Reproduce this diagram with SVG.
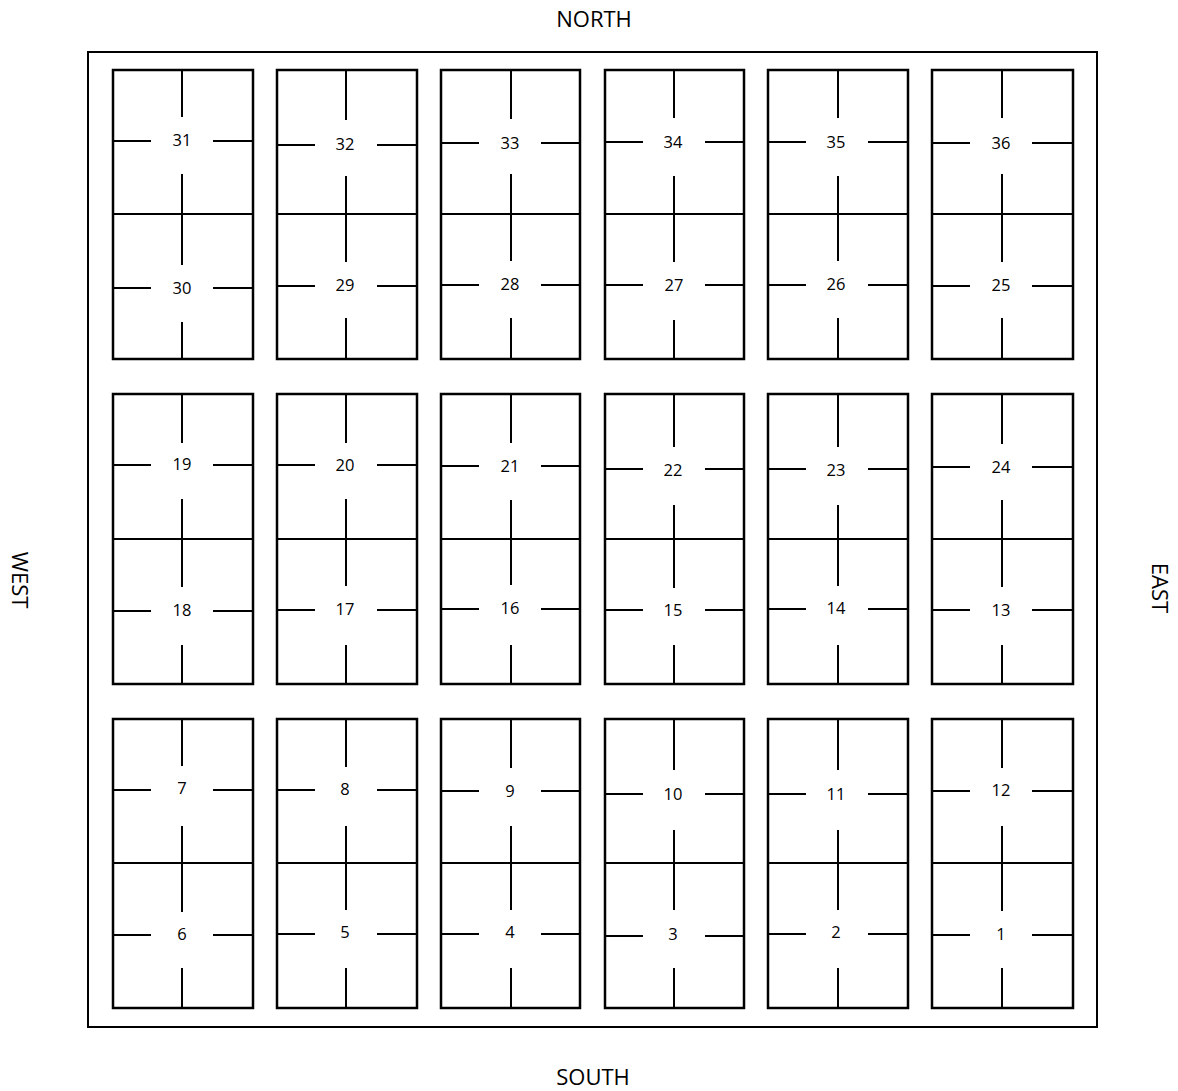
<svg xmlns="http://www.w3.org/2000/svg" width="1178" height="1091" viewBox="0 0 1178 1091">
<style>
.b{fill:none;stroke:#000;stroke-width:2.5}
.o{fill:none;stroke:#000;stroke-width:2}
.l{stroke:#000;stroke-width:2;fill:none}
.n{font-family:"Open Sans","Liberation Sans",sans-serif;font-size:16.5px;text-anchor:middle;fill:#000}
.d{font-family:"Open Sans","Liberation Sans",sans-serif;font-size:22px;text-anchor:middle;fill:#000}
</style>
<rect width="1178" height="1091" fill="#fff"/>
<rect class="o" x="88" y="52" width="1009" height="975"/>
<g id="labels">
<text class="d" x="594" y="27">NORTH</text>
<text class="d" x="593" y="1085">SOUTH</text>
<text class="d" transform="translate(12,580) rotate(90)">WEST</text>
<text class="d" transform="translate(1152,588) rotate(90)">EAST</text>
</g>
<g id="b31_30"><rect class="b" x="113" y="70" width="140" height="289"/><path class="l" d="M113 214H253M182 70V117M182 174V265M182 322V359M113 141H151M213 141H253M113 288H151M213 288H253"/><text class="n" x="182" y="146">31</text><text class="n" x="182" y="294">30</text></g>
<g id="b32_29"><rect class="b" x="277" y="70" width="140" height="289"/><path class="l" d="M277 214H417M346 70V120M346 176V262M346 318V359M277 145H315M377 145H417M277 286H315M377 286H417"/><text class="n" x="345" y="150">32</text><text class="n" x="345" y="291">29</text></g>
<g id="b33_28"><rect class="b" x="441" y="70" width="139" height="289"/><path class="l" d="M441 214H580M511 70V119M511 174V261M511 318V359M441 143H479M541 143H580M441 285H479M541 285H580"/><text class="n" x="510" y="149">33</text><text class="n" x="510" y="290">28</text></g>
<g id="b34_27"><rect class="b" x="605" y="70" width="139" height="289"/><path class="l" d="M605 214H744M674 70V118M674 176V262M674 320V359M605 142H643M705 142H744M605 285H643M705 285H744"/><text class="n" x="673" y="148">34</text><text class="n" x="674" y="291">27</text></g>
<g id="b35_26"><rect class="b" x="768" y="70" width="140" height="289"/><path class="l" d="M768 214H908M838 70V118M838 176V261M838 318V359M768 142H806M868 142H908M768 285H806M868 285H908"/><text class="n" x="836" y="148">35</text><text class="n" x="836" y="290">26</text></g>
<g id="b36_25"><rect class="b" x="932" y="70" width="141" height="289"/><path class="l" d="M932 214H1073M1002 70V118M1002 174V262M1002 318V359M932 143H970M1032 143H1073M932 286H970M1032 286H1073"/><text class="n" x="1001" y="149">36</text><text class="n" x="1001" y="291">25</text></g>
<g id="b19_18"><rect class="b" x="113" y="394" width="140" height="290"/><path class="l" d="M113 539H253M182 394V443M182 499V587M182 645V684M113 465H151M213 465H253M113 611H151M213 611H253"/><text class="n" x="182" y="470">19</text><text class="n" x="182" y="616">18</text></g>
<g id="b20_17"><rect class="b" x="277" y="394" width="140" height="290"/><path class="l" d="M277 539H417M346 394V443M346 499V586M346 645V684M277 465H315M377 465H417M277 610H315M377 610H417"/><text class="n" x="345" y="471">20</text><text class="n" x="345" y="615">17</text></g>
<g id="b21_16"><rect class="b" x="441" y="394" width="139" height="290"/><path class="l" d="M441 539H580M511 394V443M511 500V585M511 645V684M441 466H479M541 466H580M441 609H479M541 609H580"/><text class="n" x="510" y="472">21</text><text class="n" x="510" y="614">16</text></g>
<g id="b22_15"><rect class="b" x="605" y="394" width="139" height="290"/><path class="l" d="M605 539H744M674 394V447M674 505V588M674 645V684M605 469H643M705 469H744M605 610H643M705 610H744"/><text class="n" x="673" y="476">22</text><text class="n" x="673" y="616">15</text></g>
<g id="b23_14"><rect class="b" x="768" y="394" width="140" height="290"/><path class="l" d="M768 539H908M838 394V447M838 505V586M838 645V684M768 469H806M868 469H908M768 609H806M868 609H908"/><text class="n" x="836" y="476">23</text><text class="n" x="836" y="614">14</text></g>
<g id="b24_13"><rect class="b" x="932" y="394" width="141" height="290"/><path class="l" d="M932 539H1073M1002 394V444M1002 500V587M1002 645V684M932 467H970M1032 467H1073M932 610H970M1032 610H1073"/><text class="n" x="1001" y="473">24</text><text class="n" x="1001" y="616">13</text></g>
<g id="b7_6"><rect class="b" x="113" y="719" width="140" height="289"/><path class="l" d="M113 863H253M182 719V766M182 826V912M182 968V1008M113 790H151M213 790H253M113 935H151M213 935H253"/><text class="n" x="182" y="794">7</text><text class="n" x="182" y="940">6</text></g>
<g id="b8_5"><rect class="b" x="277" y="719" width="140" height="289"/><path class="l" d="M277 863H417M346 719V767M346 826V910M346 968V1008M277 790H315M377 790H417M277 934H315M377 934H417"/><text class="n" x="345" y="795">8</text><text class="n" x="345" y="938">5</text></g>
<g id="b9_4"><rect class="b" x="441" y="719" width="139" height="289"/><path class="l" d="M441 863H580M511 719V768M511 826V910M511 968V1008M441 791H479M541 791H580M441 934H479M541 934H580"/><text class="n" x="510" y="797">9</text><text class="n" x="510" y="938">4</text></g>
<g id="b10_3"><rect class="b" x="605" y="719" width="139" height="289"/><path class="l" d="M605 863H744M674 719V770M674 830V910M674 968V1008M605 794H643M705 794H744M605 936H643M705 936H744"/><text class="n" x="673" y="800">10</text><text class="n" x="673" y="940">3</text></g>
<g id="b11_2"><rect class="b" x="768" y="719" width="140" height="289"/><path class="l" d="M768 863H908M838 719V770M838 830V910M838 968V1008M768 794H806M868 794H908M768 934H806M868 934H908"/><text class="n" x="836" y="800">11</text><text class="n" x="836" y="938">2</text></g>
<g id="b12_1"><rect class="b" x="932" y="719" width="141" height="289"/><path class="l" d="M932 863H1073M1002 719V768M1002 826V911M1002 968V1008M932 791H970M1032 791H1073M932 935H970M1032 935H1073"/><text class="n" x="1001" y="796">12</text><text class="n" x="1001" y="940">1</text></g>
</svg>
